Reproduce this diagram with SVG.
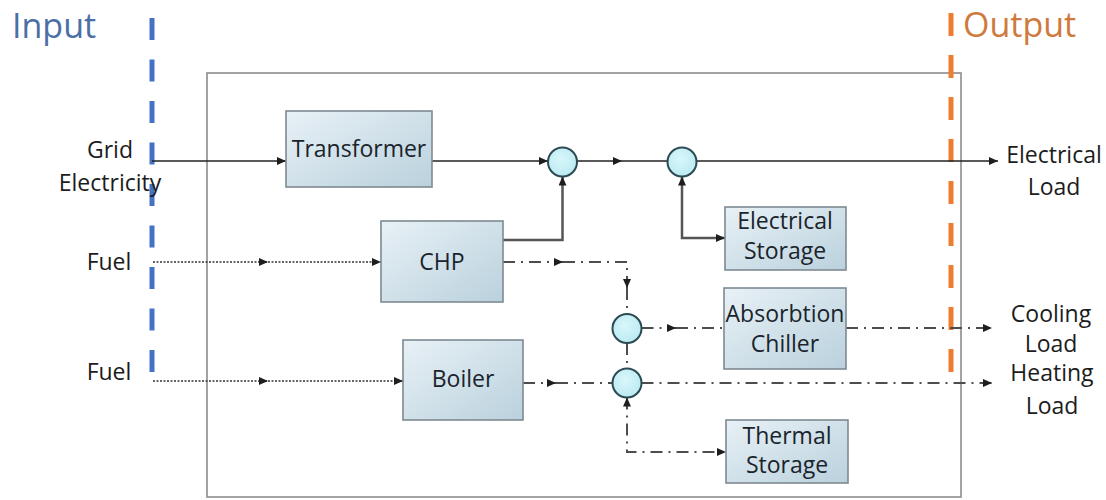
<svg xmlns="http://www.w3.org/2000/svg" width="1106" height="500" viewBox="0 0 1106 500">
  <defs>
    <linearGradient id="boxFill" x1="0" y1="0" x2="1" y2="1">
      <stop offset="0" stop-color="#e8f1f6"/>
      <stop offset="1" stop-color="#bad1dd"/>
    </linearGradient>
    <radialGradient id="nodeFill" cx="0.45" cy="0.4" r="0.7">
      <stop offset="0" stop-color="#d8f7fb"/>
      <stop offset="1" stop-color="#b7e8f0"/>
    </radialGradient>
    <marker id="arrow" viewBox="0 0 9 8" markerUnits="userSpaceOnUse" markerWidth="9" markerHeight="8" refX="9" refY="4" orient="auto-start-reverse">
      <path d="M0,0 L9,4 L0,8 z" fill="#1e1e1e"/>
    </marker>
    <style>
      .box { fill: url(#boxFill); stroke: #7d8a92; stroke-width: 1.6; }
      .junction { fill: url(#nodeFill); stroke: #2c4a52; stroke-width: 2; }
      .label { font-family: "Open Sans", "Liberation Sans", sans-serif; font-size: 23px; fill: #1c1c1c; text-anchor: middle; }
      .boxText { font-family: "Open Sans", "Liberation Sans", sans-serif; font-size: 23px; fill: #1a242c; text-anchor: middle; }
      .elec { fill: none; stroke: #222; stroke-width: 1.5; }
      .elecThick { fill: none; stroke: #555; stroke-width: 2.5; }
      .fuel { fill: none; stroke: #333; stroke-width: 1.6; stroke-dasharray: 2 1.5; }
      .heat { fill: none; stroke: #4d4d4d; stroke-width: 2; stroke-dasharray: 12 6 2 6; }
    </style>
  </defs>

  <rect width="1106" height="500" fill="#ffffff"/>

  <!-- system boundary -->
  <rect id="boundary" x="207" y="73" width="754" height="424" fill="none" stroke="#8c8c8c" stroke-width="1.6"/>

  <!-- input / output limits -->
  <g id="input-side">
    <line x1="152" y1="18" x2="152" y2="374" stroke="#4472c4" stroke-width="5" stroke-dasharray="22 19.5"/>
    <text x="12" y="38" font-family="Open Sans, Liberation Sans, sans-serif" font-size="34" fill="#4b6ea6">Input</text>
  </g>
  <g id="output-side">
    <line x1="951" y1="13" x2="951" y2="374" stroke="#ed7d31" stroke-width="5" stroke-dasharray="23 19"/>
    <text x="963" y="37" font-family="Open Sans, Liberation Sans, sans-serif" font-size="34" fill="#cf7a3c">Output</text>
  </g>

  <!-- connectors -->
  <g id="connectors">
    <!-- electricity -->
    <path class="elec" d="M152,161 H286" marker-end="url(#arrow)"/>
    <path class="elec" d="M432,161 H548" marker-end="url(#arrow)"/>
    <path class="elec" d="M577,161 H622" marker-end="url(#arrow)"/>
    <path class="elec" d="M622,161 H667"/>
    <path class="elec" d="M697,161 H998" marker-end="url(#arrow)"/>
    <path class="elecThick" d="M503,240 H562.5 V176.5" marker-end="url(#arrow)"/>
    <path class="elecThick" d="M682,176.5 V238 H725" marker-start="url(#arrow)" marker-end="url(#arrow)"/>

    <!-- fuel -->
    <path class="fuel" d="M153,262 H268" marker-end="url(#arrow)"/>
    <path class="fuel" d="M268,262 H381" marker-end="url(#arrow)"/>
    <path class="fuel" d="M153,381 H268" marker-end="url(#arrow)"/>
    <path class="fuel" d="M268,381 H403" marker-end="url(#arrow)"/>

    <!-- heat -->
    <path class="heat" d="M503,262 H563" marker-end="url(#arrow)"/>
    <path class="heat" d="M563,262 H627 V288" marker-end="url(#arrow)"/>
    <path class="heat" d="M627,288 V314"/>
    <path class="heat" d="M627,343 V369"/>
    <path class="heat" d="M641.5,328 H676" marker-end="url(#arrow)"/>
    <path class="heat" d="M676,328 H724"/>
    <path class="heat" d="M846,328 H992" marker-end="url(#arrow)"/>
    <path class="heat" d="M523,383 H556" marker-end="url(#arrow)"/>
    <path class="heat" d="M556,383 H612.5"/>
    <path class="heat" d="M641.5,383 H992" marker-end="url(#arrow)"/>
    <path class="heat" d="M627,397.5 V452 H726" marker-start="url(#arrow)" marker-end="url(#arrow)"/>
  </g>

  <!-- external labels -->
  <g id="grid-electricity">
    <text class="label" x="110" y="158">Grid</text>
    <text class="label" x="110" y="191">Electricity</text>
  </g>
  <g id="fuel-chp"><text class="label" x="109" y="270">Fuel</text></g>
  <g id="fuel-boiler"><text class="label" x="109" y="380">Fuel</text></g>
  <g id="electrical-load">
    <text class="label" x="1054" y="163">Electrical</text>
    <text class="label" x="1054" y="195">Load</text>
  </g>
  <g id="cooling-load">
    <text class="label" x="1051" y="322">Cooling</text>
    <text class="label" x="1051" y="352">Load</text>
  </g>
  <g id="heating-load">
    <text class="label" x="1052" y="381">Heating</text>
    <text class="label" x="1052" y="414">Load</text>
  </g>

  <!-- equipment -->
  <g id="transformer">
    <rect class="box" x="286" y="111" width="146" height="76"/>
    <text class="boxText" x="359" y="157">Transformer</text>
  </g>
  <g id="chp">
    <rect class="box" x="381" y="221" width="122" height="81"/>
    <text class="boxText" x="442" y="270">CHP</text>
  </g>
  <g id="boiler">
    <rect class="box" x="403" y="340" width="120" height="80"/>
    <text class="boxText" x="463" y="387">Boiler</text>
  </g>
  <g id="electrical-storage">
    <rect class="box" x="725" y="207" width="121" height="63"/>
    <text class="boxText" x="785" y="229">Electrical</text>
    <text class="boxText" x="785" y="259">Storage</text>
  </g>
  <g id="absorption-chiller">
    <rect class="box" x="724" y="288" width="122" height="81"/>
    <text class="boxText" x="785" y="322">Absorbtion</text>
    <text class="boxText" x="785" y="352">Chiller</text>
  </g>
  <g id="thermal-storage">
    <rect class="box" x="726" y="420" width="122" height="63"/>
    <text class="boxText" x="787" y="444">Thermal</text>
    <text class="boxText" x="787" y="473">Storage</text>
  </g>

  <!-- junctions -->
  <g id="junction-elec-1"><circle class="junction" cx="562.5" cy="162" r="14.5"/></g>
  <g id="junction-elec-2"><circle class="junction" cx="682" cy="162" r="14.5"/></g>
  <g id="junction-cool"><circle class="junction" cx="627" cy="328.5" r="14.5"/></g>
  <g id="junction-heat"><circle class="junction" cx="627" cy="383" r="14.5"/></g>
</svg>
